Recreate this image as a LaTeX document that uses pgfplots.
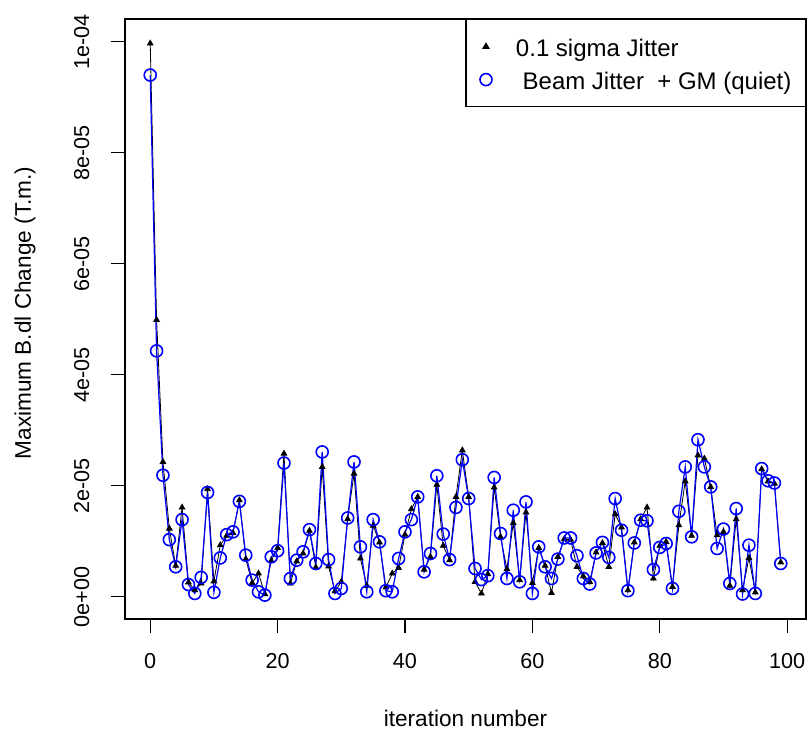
\documentclass[border=0pt]{standalone}
\usepackage{fontspec}
\setmainfont{Liberation Sans}
\usepackage{pgfplots}
\pgfplotsset{compat=1.18}
\begin{document}
\fontsize{10.8}{13}\selectfont
\begin{tikzpicture}[x=1pt,y=1pt]
\useasboundingbox (-62.5,-56) rectangle (341.5,309.5);
\begin{axis}[
  at={(0,0)}, anchor=south west,
  scale only axis, width=340.5pt, height=300pt,
  xmin=-3.96, xmax=102.96, ymin=-0.4e-5, ymax=10.41e-5,
  axis line style={black, line width=0.6pt},
  tick style={black, line width=0.6pt},
  tick align=outside, major tick length=7pt,
  xtick pos=left, ytick pos=left,
  xtick={0,20,40,60,80,100},
  xticklabels={0,20,40,60,80,100},
  ytick={0,2e-5,4e-5,6e-5,8e-5,10e-5},
  yticklabels={0e+00,2e-05,4e-05,6e-05,8e-05,1e-04},
  scaled y ticks=false,
  xticklabel style={font=\fontsize{10.8}{13}\selectfont, anchor=north, yshift=-6.5pt},
  yticklabel style={font=\fontsize{10.8}{13}\selectfont, rotate=90, anchor=south, yshift=7pt},
  every axis x label/.style={at={(axis description cs:0.5,0)}, anchor=center, yshift=-49.5pt, font=\fontsize{11.3}{13}\selectfont},
  every axis y label/.style={at={(axis description cs:0,0.5)}, rotate=90, anchor=center, yshift=50pt, xshift=3pt, font=\fontsize{11.3}{13}\selectfont},
  xlabel={iteration number},
  ylabel={Maximum B.dl Change (T.m.)},
  legend style={at={(1,1)}, anchor=north east, draw=black, line width=0.6pt,
    fill=white, inner xsep=7pt, inner ysep=7.5pt, row sep=4.5pt,
    font=\fontsize{12}{14}\selectfont,
    nodes={inner sep=0pt, text height=11pt, text depth=1pt},
    /tikz/every odd column/.style={column sep=12pt}},
  legend cell align=left,
  clip=false,
]
\addlegendimage{only marks, mark=triangle*, black, mark size=1.6pt}
\addlegendentry{0.1 sigma Jitter}
\addlegendimage{only marks, mark=o, blue, mark size=3pt, mark options={line width=0.8pt}}
\addlegendentry{\ Beam Jitter\ \ + GM (quiet)}

\addplot[forget plot, black, line width=0.4pt, mark=triangle*, mark size=1.6pt, mark options={solid}] coordinates {
(0,9.97e-5)(1,4.99e-5)(2,2.43e-5)(3,1.23e-5)(4,0.56e-5)(5,1.61e-5)(6,0.26e-5)(7,0.12e-5)(8,0.24e-5)(9,1.94e-5)
(10,0.28e-5)(11,0.93e-5)(12,1.10e-5)(13,1.15e-5)(14,1.74e-5)(15,0.68e-5)(16,0.25e-5)(17,0.42e-5)(18,0.05e-5)(19,0.65e-5)
(20,0.88e-5)(21,2.58e-5)(22,0.24e-5)(23,0.64e-5)(24,0.78e-5)(25,1.19e-5)(26,0.53e-5)(27,2.34e-5)(28,0.55e-5)(29,0.10e-5)
(30,0.27e-5)(31,1.40e-5)(32,2.22e-5)(33,0.69e-5)(34,0.20e-5)(35,1.28e-5)(36,0.98e-5)(37,0.17e-5)(38,0.42e-5)(39,0.52e-5)
(40,1.12e-5)(41,1.58e-5)(42,1.80e-5)(43,0.49e-5)(44,0.72e-5)(45,2.02e-5)(46,0.92e-5)(47,0.66e-5)(48,1.80e-5)(49,2.64e-5)
(50,1.80e-5)(51,0.27e-5)(52,0.06e-5)(53,0.41e-5)(54,1.97e-5)(55,1.08e-5)(56,0.50e-5)(57,1.33e-5)(58,0.30e-5)(59,1.52e-5)
(60,0.25e-5)(61,0.88e-5)(62,0.56e-5)(63,0.07e-5)(64,0.72e-5)(65,1.04e-5)(66,1.03e-5)(67,0.54e-5)(68,0.37e-5)(69,0.27e-5)
(70,0.80e-5)(71,0.97e-5)(72,0.54e-5)(73,1.49e-5)(74,1.25e-5)(75,0.12e-5)(76,0.98e-5)(77,1.40e-5)(78,1.61e-5)(79,0.33e-5)
(80,0.92e-5)(81,0.99e-5)(82,0.18e-5)(83,1.29e-5)(84,2.08e-5)(85,1.10e-5)(86,2.55e-5)(87,2.49e-5)(88,1.98e-5)(89,1.11e-5)
(90,1.17e-5)(91,0.20e-5)(92,1.40e-5)(93,0.12e-5)(94,0.70e-5)(95,0.08e-5)(96,2.30e-5)(97,2.08e-5)(98,2.04e-5)(99,0.62e-5)
};
\addplot[forget plot, blue, line width=0.6pt, mark=o, mark size=3pt, mark options={solid, line width=0.8pt}] coordinates {
(0,9.40e-5)(1,4.43e-5)(2,2.19e-5)(3,1.03e-5)(4,0.54e-5)(5,1.39e-5)(6,0.22e-5)(7,0.06e-5)(8,0.35e-5)(9,1.88e-5)
(10,0.08e-5)(11,0.70e-5)(12,1.12e-5)(13,1.17e-5)(14,1.72e-5)(15,0.75e-5)(16,0.30e-5)(17,0.09e-5)(18,0.03e-5)(19,0.72e-5)
(20,0.83e-5)(21,2.41e-5)(22,0.33e-5)(23,0.66e-5)(24,0.81e-5)(25,1.21e-5)(26,0.60e-5)(27,2.61e-5)(28,0.67e-5)(29,0.06e-5)
(30,0.15e-5)(31,1.42e-5)(32,2.43e-5)(33,0.90e-5)(34,0.09e-5)(35,1.39e-5)(36,0.99e-5)(37,0.11e-5)(38,0.09e-5)(39,0.69e-5)
(40,1.17e-5)(41,1.39e-5)(42,1.80e-5)(43,0.45e-5)(44,0.78e-5)(45,2.18e-5)(46,1.13e-5)(47,0.67e-5)(48,1.61e-5)(49,2.47e-5)
(50,1.77e-5)(51,0.51e-5)(52,0.31e-5)(53,0.38e-5)(54,2.15e-5)(55,1.14e-5)(56,0.33e-5)(57,1.56e-5)(58,0.27e-5)(59,1.71e-5)
(60,0.06e-5)(61,0.90e-5)(62,0.54e-5)(63,0.33e-5)(64,0.68e-5)(65,1.06e-5)(66,1.06e-5)(67,0.74e-5)(68,0.33e-5)(69,0.23e-5)
(70,0.79e-5)(71,0.98e-5)(72,0.71e-5)(73,1.77e-5)(74,1.20e-5)(75,0.11e-5)(76,0.97e-5)(77,1.38e-5)(78,1.37e-5)(79,0.49e-5)
(80,0.89e-5)(81,0.96e-5)(82,0.15e-5)(83,1.54e-5)(84,2.34e-5)(85,1.08e-5)(86,2.83e-5)(87,2.34e-5)(88,1.98e-5)(89,0.87e-5)
(90,1.22e-5)(91,0.24e-5)(92,1.59e-5)(93,0.05e-5)(94,0.93e-5)(95,0.06e-5)(96,2.31e-5)(97,2.09e-5)(98,2.05e-5)(99,0.60e-5)
};
\end{axis}
\end{tikzpicture}
\end{document}
